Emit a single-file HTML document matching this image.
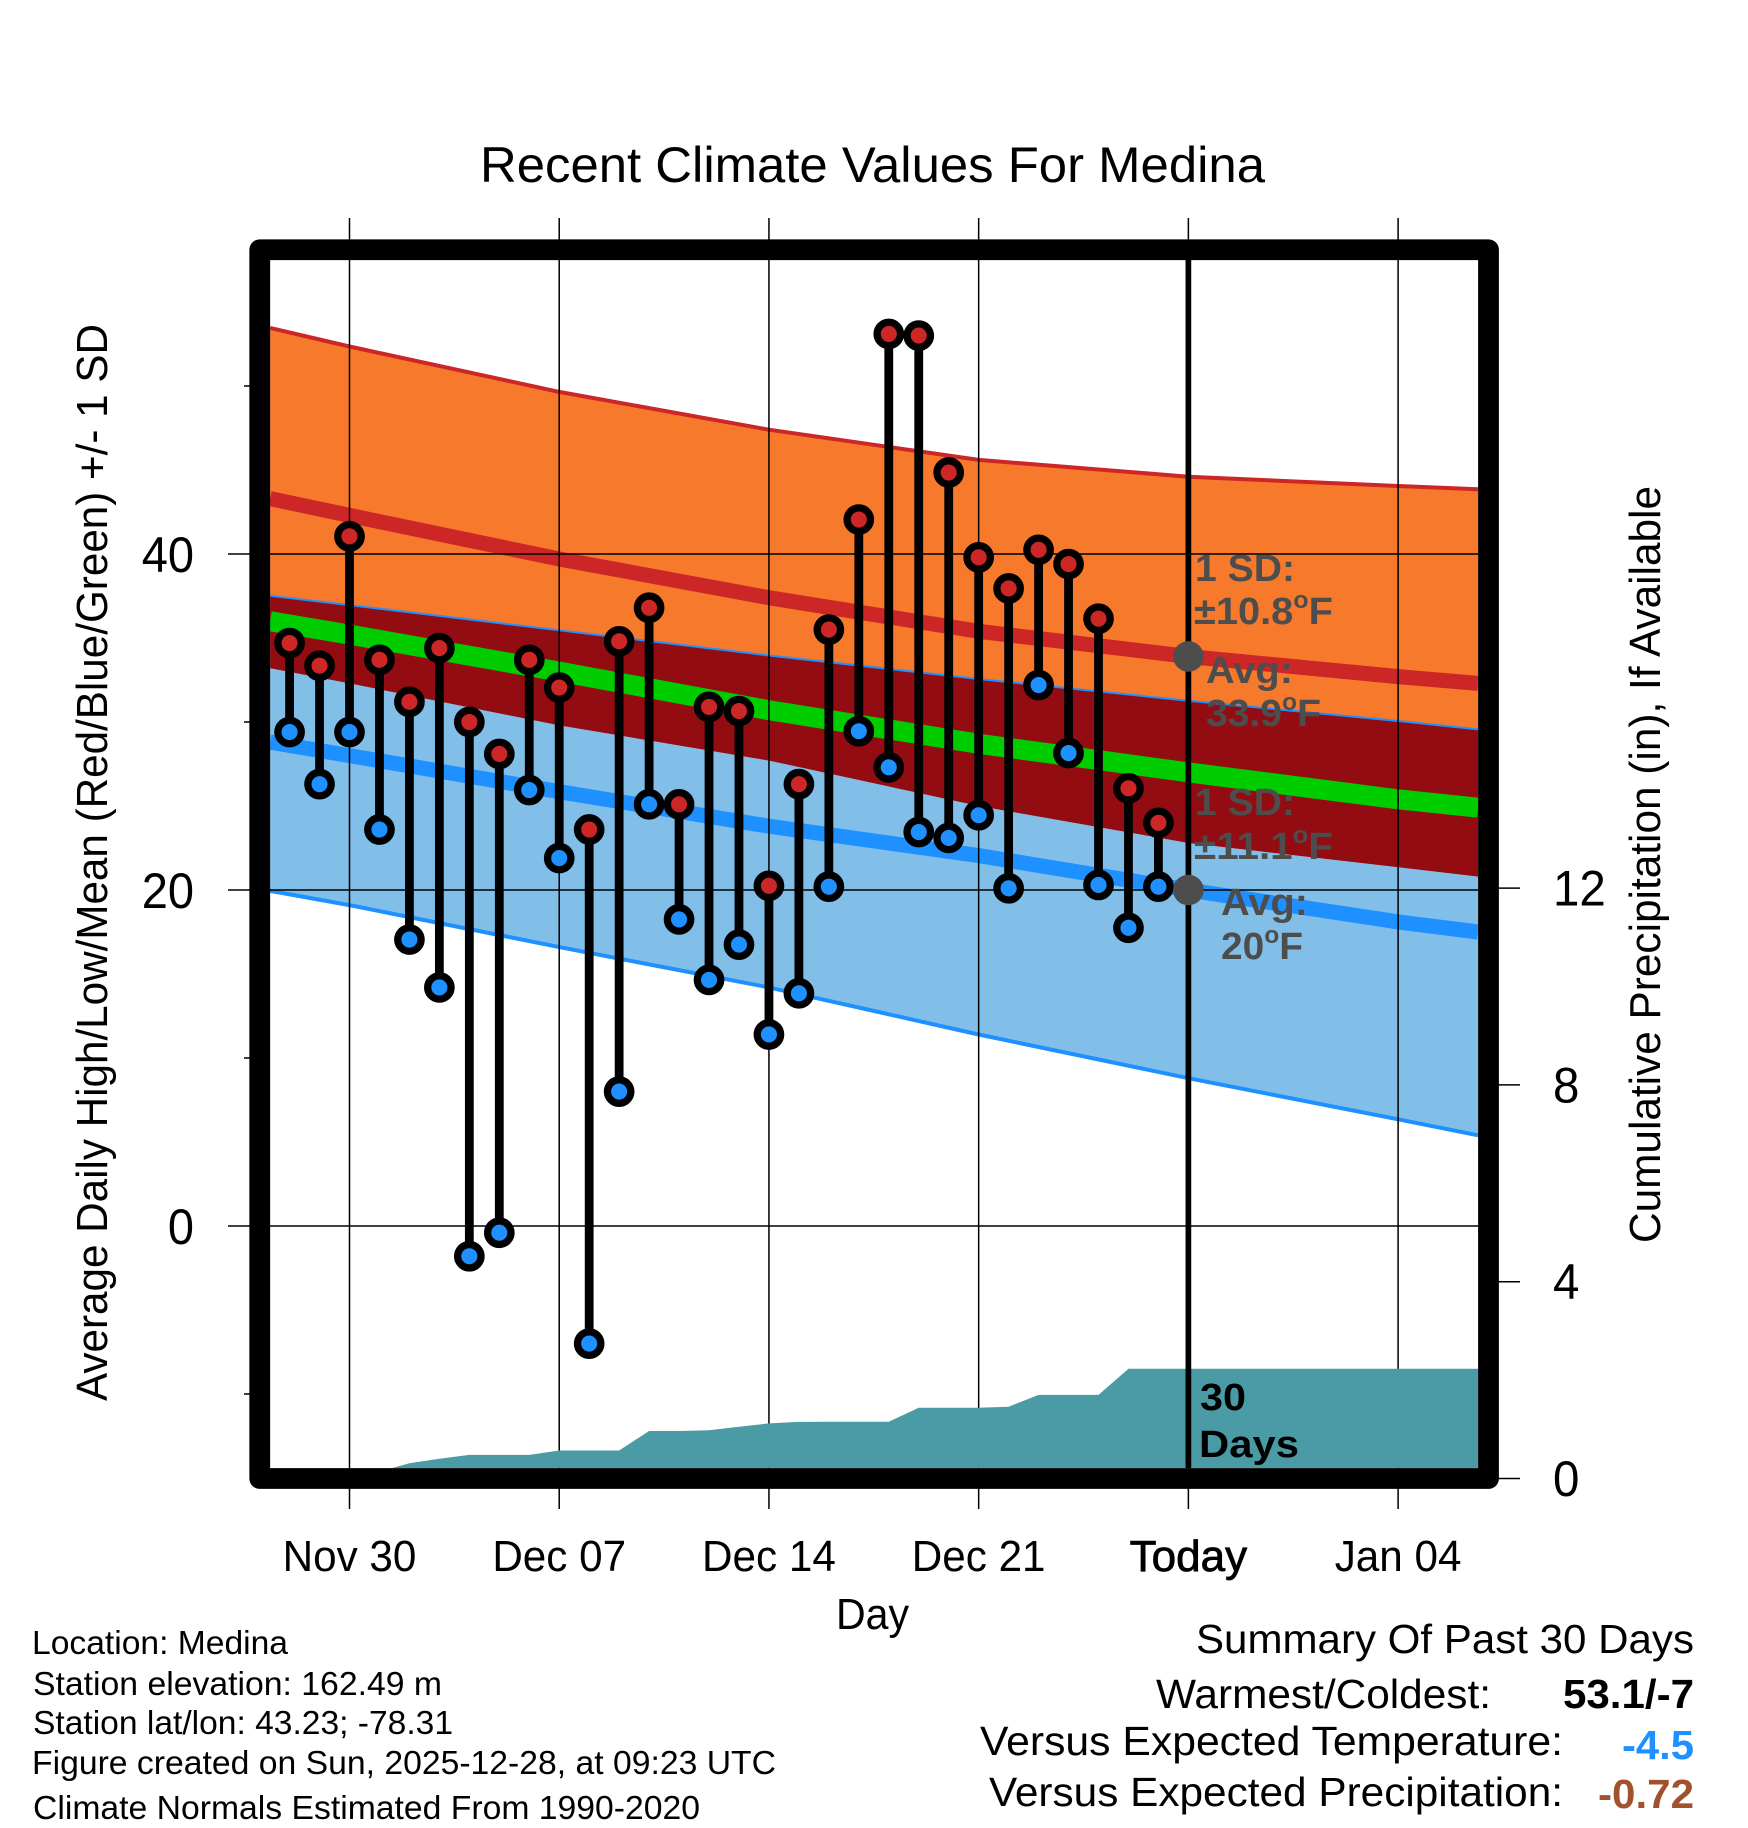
<!DOCTYPE html>
<html lang="en">
<head>
<meta charset="utf-8">
<title>Recent Climate Values For Medina</title>
<style>
html,body{margin:0;padding:0;background:#fff;}
svg{display:block;font-family:"Liberation Sans",Arial,sans-serif;}
</style>
</head>
<body>
<svg id="chart" xmlns="http://www.w3.org/2000/svg" width="1748" height="1828" viewBox="0 0 1748 1828">
  <defs>
    <clipPath id="plot-clip"><rect x="270" y="260" width="1208" height="1208"/></clipPath>
  </defs>
  <rect x="0" y="0" width="1748" height="1828" fill="#fff"/>
  <g id="bands" clip-path="url(#plot-clip)"></g>
  <g id="grid"></g>
  <g id="precip" clip-path="url(#plot-clip)"></g>
  <g id="today"></g>
  <g id="daily"></g>
  <g id="frame"></g>
  <g id="labels"></g>

  <text x="480" y="182" font-size="50" textLength="785" lengthAdjust="spacingAndGlyphs">Recent Climate Values For Medina</text>
  <text transform="translate(107,1401) rotate(-90)" font-size="44" textLength="1077" lengthAdjust="spacingAndGlyphs">Average Daily High/Low/Mean (Red/Blue/Green) +/- 1 SD</text>
  <text transform="translate(1660,1243) rotate(-90)" font-size="44" textLength="757" lengthAdjust="spacingAndGlyphs">Cumulative Precipitation (in), If Available</text>
  <text x="836" y="1629" font-size="44" textLength="73" lengthAdjust="spacingAndGlyphs">Day</text>

  <g font-weight="bold" font-size="38" fill="#4d4d4d">
    <text x="1195" y="581" textLength="100" lengthAdjust="spacingAndGlyphs">1 SD:</text>
    <text x="1194" y="624" textLength="139" lengthAdjust="spacingAndGlyphs">±10.8<tspan font-size="24" dy="-16">o</tspan><tspan dy="16">F</tspan></text>
    <text x="1206" y="683" textLength="87" lengthAdjust="spacingAndGlyphs">Avg:</text>
    <text x="1206" y="726" textLength="115" lengthAdjust="spacingAndGlyphs">33.9<tspan font-size="24" dy="-16">o</tspan><tspan dy="16">F</tspan></text>
    <text x="1195" y="815" textLength="100" lengthAdjust="spacingAndGlyphs">1 SD:</text>
    <text x="1194" y="859" textLength="139" lengthAdjust="spacingAndGlyphs">±11.1<tspan font-size="24" dy="-16">o</tspan><tspan dy="16">F</tspan></text>
    <text x="1221" y="915" textLength="87" lengthAdjust="spacingAndGlyphs">Avg:</text>
    <text x="1221" y="959" textLength="82" lengthAdjust="spacingAndGlyphs">20<tspan font-size="24" dy="-16">o</tspan><tspan dy="16">F</tspan></text>
  </g>
  <g font-weight="bold" font-size="38" fill="#000">
    <text x="1200" y="1410" textLength="46" lengthAdjust="spacingAndGlyphs">30</text>
    <text x="1199" y="1457" textLength="100" lengthAdjust="spacingAndGlyphs">Days</text>
  </g>

  <g font-size="33" fill="#000">
    <text x="32" y="1654" textLength="256" lengthAdjust="spacingAndGlyphs">Location: Medina</text>
    <text x="33" y="1695" textLength="409" lengthAdjust="spacingAndGlyphs">Station elevation: 162.49 m</text>
    <text x="33" y="1734" textLength="420" lengthAdjust="spacingAndGlyphs">Station lat/lon: 43.23; -78.31</text>
    <text x="32" y="1774" textLength="744" lengthAdjust="spacingAndGlyphs">Figure created on Sun, 2025-12-28, at 09:23 UTC</text>
    <text x="33" y="1819" textLength="667" lengthAdjust="spacingAndGlyphs">Climate Normals Estimated From 1990-2020</text>
  </g>

  <g font-size="41" fill="#000">
    <text x="1196" y="1653" textLength="498" lengthAdjust="spacingAndGlyphs">Summary Of Past 30 Days</text>
    <text x="1156" y="1708" textLength="335" lengthAdjust="spacingAndGlyphs">Warmest/Coldest:</text>
    <text x="1563" y="1708" font-weight="bold" textLength="131" lengthAdjust="spacingAndGlyphs">53.1/-7</text>
    <text x="980" y="1755" textLength="583" lengthAdjust="spacingAndGlyphs">Versus Expected Temperature:</text>
    <text x="1622" y="1759" font-weight="bold" fill="#1e90ff" textLength="72" lengthAdjust="spacingAndGlyphs">-4.5</text>
    <text x="989" y="1806" textLength="574" lengthAdjust="spacingAndGlyphs">Versus Expected Precipitation:</text>
    <text x="1598" y="1808" font-weight="bold" fill="#a0522d" textLength="96" lengthAdjust="spacingAndGlyphs">-0.72</text>
  </g>
</svg>
<script>
// ---- Data ----
var dayOffsets = [-2,-1,0,1,2,3,4,5,6,7,8,9,10,11,12,13,14,15,16,17,18,19,20,21,22,23,24,25,26,27];
var dailyHigh = [34.7,33.35,41.05,33.7,31.2,34.4,30.0,28.1,33.7,32.05,23.6,34.8,36.8,25.1,30.9,30.65,20.25,26.3,35.5,42.05,53.1,53.0,44.85,39.8,37.95,40.25,39.4,36.15,26.05,24.0];
var dailyLow = [29.4,26.3,29.4,23.6,17.05,14.2,-1.8,-0.4,25.95,21.9,-7.0,8.0,25.1,18.25,14.65,16.75,11.4,13.85,20.2,29.45,27.3,23.45,23.1,24.45,20.1,32.2,28.15,20.3,17.75,20.2];
var cumulativePrecip = [0,0,0,0.14,0.31,0.40,0.48,0.48,0.48,0.57,0.57,0.57,0.965,0.965,0.98,1.05,1.12,1.15,1.155,1.155,1.155,1.44,1.44,1.44,1.46,1.70,1.70,1.70,2.23,2.23];
var climateDays = [-2.65,0,7,14,21,28,35,37.67];
var highPlusSD = [53.45,52.35,49.65,47.4,45.6,44.6,44.05,43.85];
var highMean = [43.3,42.3,39.7,37.4,35.4,33.9,32.7,32.3];
var highMinusSD = [37.45,36.9,35.4,33.9,32.5,31.2,30.0,29.5];
var overallMean = [36.0,35.2,33.0,30.7,28.7,27.0,25.4,24.9];
var lowPlusSD = [33.2,32.3,29.8,27.7,25.0,22.8,21.35,20.8];
var lowMean = [28.8,28.0,25.85,23.8,22.05,20.0,18.1,17.5];
var lowMinusSD = [19.95,19.1,16.6,14.2,11.4,8.8,6.35,5.4];
var todayOffset = 28;
var todayHighAvg = 33.9;
var todayLowAvg = 20;
var leftMajorTicks = [0,20,40];
var leftMinorTicks = [-10,10,30,50];
var rightTicks = [0,4,8,12];
var xTickDays = [0,7,14,21,28,35];
var xTickLabels = ["Nov 30","Dec 07","Dec 14","Dec 21","Today","Jan 04"];

// ---- Axis functions ----
function xScale(d){ return 349.5 + 29.96 * d; }
function yScale(v){ return 1226 - 16.8 * v; }
function precipScale(v){ return 1478.5 - 49.2 * v; }

var SVGNS = "http://www.w3.org/2000/svg";
function byId(id){ return document.getElementById(id); }
function svgEl(tag, parent){
  var e = document.createElementNS(SVGNS, tag);
  parent.appendChild(e);
  return e;
}
function setAttrs(e, a){ for (var k in a) e.setAttribute(k, a[k]); }
function pts(days, vals){
  return days.map(function(d, i){ return xScale(d).toFixed(1) + "," + yScale(vals[i]).toFixed(1); }).join(" ");
}
function bandPts(days, top, bottom){
  var a = days.map(function(d, i){ return xScale(d).toFixed(1) + "," + yScale(top[i]).toFixed(1); });
  var b = days.map(function(d, i){ return xScale(d).toFixed(1) + "," + yScale(bottom[i]).toFixed(1); }).reverse();
  return a.concat(b).join(" ");
}

// ---- Bands ----
var bands = byId("bands");
var el;
el = svgEl("polygon", bands);


setAttrs(el, {points: bandPts(climateDays, highPlusSD, highMinusSD), fill: "#f7792b"});
el = svgEl("polygon", bands);


setAttrs(el, {points: bandPts(climateDays, lowPlusSD, lowMinusSD), fill: "#82bfe8"});
el = svgEl("polyline", bands);


setAttrs(el, {points: pts(climateDays, highMinusSD), fill: "none", stroke: "#1e90ff", "stroke-width": 4});
el = svgEl("polygon", bands);


setAttrs(el, {points: bandPts(climateDays, highMinusSD, lowPlusSD), fill: "#930c12"});
el = svgEl("polyline", bands);


setAttrs(el, {points: pts(climateDays, highPlusSD), fill: "none", stroke: "#cd2626", "stroke-width": 4});
el = svgEl("polyline", bands);


setAttrs(el, {points: pts(climateDays, lowMinusSD), fill: "none", stroke: "#1e90ff", "stroke-width": 4});
el = svgEl("polyline", bands);


setAttrs(el, {points: pts(climateDays, highMean), fill: "none", stroke: "#cd2626", "stroke-width": 15});
el = svgEl("polyline", bands);


setAttrs(el, {points: pts(climateDays, overallMean), fill: "none", stroke: "#00cd00", "stroke-width": 20});
el = svgEl("polyline", bands);


setAttrs(el, {points: pts(climateDays, lowMean), fill: "none", stroke: "#1e90ff", "stroke-width": 15});

// ---- Grid and ticks ----
var grid = byId("grid");
xTickDays.forEach(function(d){
  var line = svgEl("line", grid);
  
  
  setAttrs(line, {x1: xScale(d), x2: xScale(d), y1: 218, y2: 1509, stroke: "#000", "stroke-width": 1.5});
});
leftMajorTicks.forEach(function(v){
  var line = svgEl("line", grid);
  
  
  setAttrs(line, {x1: 228, x2: 1478, y1: yScale(v), y2: yScale(v), stroke: "#000", "stroke-width": 1.5});
});
leftMinorTicks.forEach(function(v){
  var line = svgEl("line", grid);
  
  
  setAttrs(line, {x1: 244, x2: 252, y1: yScale(v), y2: yScale(v), stroke: "#000", "stroke-width": 1.5});
});
rightTicks.forEach(function(v){
  var line = svgEl("line", grid);
  
  
  setAttrs(line, {x1: 1497, x2: 1520, y1: precipScale(v), y2: precipScale(v), stroke: "#000", "stroke-width": 1.5});
});

// ---- Precipitation area ----
var lastPrecip = cumulativePrecip[cumulativePrecip.length - 1];
var rightEdgeDay = climateDays[climateDays.length - 1];
var precipPoints = dayOffsets.map(function(d, i){
  return xScale(d).toFixed(1) + "," + precipScale(cumulativePrecip[i]).toFixed(1);
});
precipPoints.push(xScale(rightEdgeDay).toFixed(1) + "," + precipScale(lastPrecip).toFixed(1));
precipPoints.push(xScale(rightEdgeDay).toFixed(1) + "," + precipScale(0).toFixed(1));
precipPoints.push(xScale(dayOffsets[0]).toFixed(1) + "," + precipScale(0).toFixed(1));
el = svgEl("polygon", byId("precip"));


setAttrs(el, {points: precipPoints.join(" "), fill: "#4a9ba5"});

// ---- Today line and average markers ----
var todayGroup = byId("today");
el = svgEl("line", todayGroup);


setAttrs(el, {x1: xScale(todayOffset), x2: xScale(todayOffset), y1: 260, y2: 1468, stroke: "#000", "stroke-width": 5.7});

// ---- Daily high/low stems and markers ----
var daily = byId("daily");
dayOffsets.forEach(function(d, i){
  var stem = svgEl("line", daily);
  
  
  setAttrs(stem, {x1: xScale(d), x2: xScale(d), y1: yScale(dailyHigh[i]), y2: yScale(dailyLow[i]), stroke: "#000", "stroke-width": 8.8});
});
dayOffsets.forEach(function(d, i){
  var hi = svgEl("circle", daily);
  
  
  setAttrs(hi, {cx: xScale(d), cy: yScale(dailyHigh[i]), r: 11.7, fill: "#cd2626", stroke: "#000", "stroke-width": 7.3});
  var lo = svgEl("circle", daily);
  
  
  setAttrs(lo, {cx: xScale(d), cy: yScale(dailyLow[i]), r: 11.7, fill: "#1e90ff", stroke: "#000", "stroke-width": 7.3});
});
el = svgEl("circle", daily);


setAttrs(el, {cx: xScale(todayOffset), cy: yScale(todayHighAvg), r: 15.3, fill: "#4d4d4d"});
el = svgEl("circle", daily);


setAttrs(el, {cx: xScale(todayOffset), cy: yScale(todayLowAvg), r: 15.3, fill: "#4d4d4d"});

// ---- Frame ----
el = svgEl("rect", byId("frame"));


setAttrs(el, {x: 259.75, y: 249.75, width: 1228.75, height: 1228.75, fill: "none", stroke: "#000", "stroke-width": 20.8, "stroke-linejoin": "round"});

// ---- Tick labels ----
var labels = byId("labels");
leftMajorTicks.forEach(function(v){
  var t = svgEl("text", labels);
  
  
  setAttrs(t, {x: 194, y: yScale(v) + 18, "font-size": 50, "text-anchor": "end"});
  t.textContent = String(v);
  var leftNatural = t.getComputedTextLength();
  setAttrs(t, {textLength: (leftNatural * 0.94).toFixed(1), lengthAdjust: "spacingAndGlyphs"});
});
rightTicks.forEach(function(v){
  var t = svgEl("text", labels);
  
  
  setAttrs(t, {x: 1553, y: precipScale(v) + 17.5, "font-size": 50});
  t.textContent = String(v);
  var rightNatural = t.getComputedTextLength();
  setAttrs(t, {textLength: (rightNatural * 0.95).toFixed(1), lengthAdjust: "spacingAndGlyphs"});
});
xTickDays.forEach(function(d, i){
  var t = svgEl("text", labels);
  
  
  setAttrs(t, {x: xScale(d), y: 1571, "font-size": 44, "text-anchor": "middle"});
  t.textContent = xTickLabels[i];
  var natural = t.getComputedTextLength();
  var squeeze = d === todayOffset ? 1.0 : 0.96;
  setAttrs(t, {textLength: (natural * squeeze).toFixed(1), lengthAdjust: "spacingAndGlyphs"});
  if (d === todayOffset) setAttrs(t, {stroke: "#000", "stroke-width": 0.8});
});
</script>
</body>
</html>
